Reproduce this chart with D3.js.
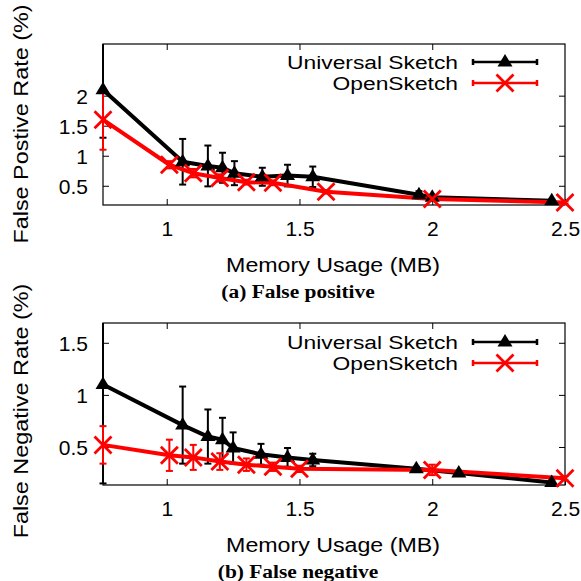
<!DOCTYPE html>
<html>
<head>
<meta charset="utf-8">
<script src="https://cdn.jsdelivr.net/npm/d3@7"></script>
<style>
  body { margin: 0; background: #fff; }
  text { font-family: "Liberation Sans", Arial, sans-serif; }
  .caption { font-family: "Liberation Serif", "Times New Roman", serif; font-weight: bold; }
</style>
</head>
<body>
<div id="chart"></div>
<script>
// x ticks shared by both panels
const xTicks = [1, 1.5, 2, 2.5];

// (a) false positive
const fpUniX = [0.76, 1.06, 1.155, 1.21, 1.255, 1.36, 1.455, 1.55, 1.95, 2.0, 2.45];
const fpUniY = [2.1, 0.9, 0.83, 0.8, 0.71, 0.65, 0.67, 0.65, 0.35, 0.31, 0.25];
const fpUniErr = [0.8, 0.38, 0.34, 0.25, 0.2, 0.15, 0.18, 0.17, 0.06, 0.04, 0.02];
const fpOpenX = [0.76, 1.01, 1.1, 1.2, 1.3, 1.4, 1.6, 2.0, 2.5];
const fpOpenY = [1.6, 0.85, 0.71, 0.63, 0.56, 0.55, 0.4, 0.28, 0.22];
const fpOpenErr = [0.5, 0.06, 0.07, 0.06, 0.04, 0.04, 0.03, 0.03, 0.02];
const fpYTicks = [0.5, 1, 1.5, 2];

// (b) false negative
const fnUniX = [0.76, 1.06, 1.155, 1.21, 1.25, 1.355, 1.455, 1.55, 1.94, 2.1, 2.45];
const fnUniY = [1.1, 0.71, 0.6, 0.57, 0.49, 0.43, 0.4, 0.375, 0.29, 0.25, 0.16];
const fnUniErr = [0.95, 0.37, 0.26, 0.21, 0.15, 0.1, 0.09, 0.06, 0.02, 0.02, 0.02];
const fnOpenX = [0.76, 1.01, 1.1, 1.2, 1.3, 1.4, 1.5, 2.0, 2.5];
const fnOpenY = [0.52, 0.42, 0.4, 0.36, 0.33, 0.31, 0.29, 0.28, 0.2];
const fnOpenErr = [0.18, 0.15, 0.12, 0.08, 0.06, 0.04, 0.03, 0.05, 0.02];
const fnYTicks = [0.5, 1, 1.5];

const seriesNames = ["Universal Sketch", "OpenSketch"];
const seriesColors = ["#000000", "#ff0000"];

const W = 581, H = 581;
const svg = d3.select("#chart").append("svg")
  .attr("width", W)
  .attr("height", H);

const plotLeft = 103, plotRight = 565;

function zip(xs, ys, es) {
  return xs.map((x, i) => ({ x: x, y: ys[i], e: es[i] }));
}

// the reference's sans text is wider than Arial, so stretch it a bit
function wideText(sel, tx, ty, rot, sx, size, anchor, str) {
  return sel.append("text")
    .attr("transform", `translate(${tx}, ${ty}) rotate(${rot}) scale(${sx}, 1)`)
    .attr("text-anchor", anchor)
    .attr("font-size", size)
    .text(str);
}

function drawPanel(opt) {
  const g = svg.append("g");
  const x = d3.scaleLinear().domain([0.76, 2.5]).range([plotLeft, plotRight]);
  const y = d3.scaleLinear().domain(opt.yDomain).range([opt.bottom, opt.top]);
  const clipId = "clip" + opt.id;

  // clip only vertically, so bars sitting on the border stay whole
  g.append("clipPath").attr("id", clipId)
    .append("rect")
    .attr("x", plotLeft - 10).attr("y", opt.top)
    .attr("width", plotRight - plotLeft + 20).attr("height", opt.bottom - opt.top);

  // axes (gnuplot style: inward ticks, mirrored)
  const xAxisCall = d3.axisBottom(x).tickValues(xTicks).tickSizeInner(-6).tickSizeOuter(0)
    .tickPadding(16).tickFormat(d3.format(""));
  const yAxisCall = d3.axisLeft(y).tickValues(opt.yTicks).tickSizeInner(-6).tickSizeOuter(0)
    .tickPadding(15).tickFormat(d3.format(""));
  const xAxis = g.append("g").attr("transform", `translate(0, ${opt.bottom})`).call(xAxisCall);
  const yAxis = g.append("g").attr("transform", `translate(${plotLeft}, 0)`).call(yAxisCall);
  // mirrored ticks
  g.append("g").attr("transform", `translate(0, ${opt.top})`)
    .call(d3.axisTop(x).tickValues(xTicks.filter(d => d < 2.5)).tickSizeInner(-6).tickSizeOuter(0).tickFormat(""));
  g.append("g").attr("transform", `translate(${plotRight}, 0)`)
    .call(d3.axisRight(y).tickValues(opt.yTicks).tickSizeInner(-6).tickSizeOuter(0).tickFormat(""));
  g.selectAll(".domain").remove();
  g.selectAll(".tick line").attr("stroke", "#000").attr("stroke-width", 1);
  [xAxis, yAxis].forEach(a => a.selectAll("text")
    .attr("font-size", "21px").attr("fill", "#000")
    .attr("font-family", "Liberation Sans, Arial, sans-serif"));
  yAxis.selectAll("text").attr("dy", "0.36em");

  g.append("rect")
    .attr("x", plotLeft).attr("y", opt.top)
    .attr("width", plotRight - plotLeft).attr("height", opt.bottom - opt.top)
    .attr("fill", "none").attr("stroke", "#000").attr("stroke-width", 1.2);

  // axis labels
  wideText(g, 333, opt.bottom + 67, 0, 1.16, "20px", "middle", "Memory Usage (MB)");
  wideText(g, 28, opt.labelY, -90, 1.17, "20px", "middle", opt.yLabel);
  wideText(g, 298, opt.bottom + 93, 0, 1.19, "18px", "middle", opt.caption)
    .attr("class", "caption");

  const line = d3.line().x(d => x(d.x)).y(d => y(d.y));
  const plot = g.append("g").attr("clip-path", `url(#${clipId})`);
  const marks = g.append("g");
  const [yMin, yMax] = opt.yDomain;

  opt.series.forEach((data, si) => {
    const col = seriesColors[si];
    // error bars
    data.forEach(d => {
      const lo = d.y - d.e, hi = d.y + d.e;
      plot.append("line")
        .attr("x1", x(d.x)).attr("x2", x(d.x))
        .attr("y1", y(lo)).attr("y2", y(hi))
        .attr("stroke", col).attr("stroke-width", 2);
      [lo, hi].forEach(v => {
        if (v > yMin && v < yMax) {
          plot.append("line")
            .attr("x1", x(d.x) - 3.5).attr("x2", x(d.x) + 3.5)
            .attr("y1", y(v)).attr("y2", y(v))
            .attr("stroke", col).attr("stroke-width", 2);
        }
      });
    });
    plot.append("path")
      .attr("d", line(data))
      .attr("fill", "none").attr("stroke", col)
      .attr("stroke-width", 4)
      .attr("stroke-linejoin", "round");
  });
  // markers on top of all lines
  opt.series.forEach((data, si) => {
    data.forEach(d => drawMarker(marks, si, x(d.x), y(d.y)));
  });

  // legend
  seriesNames.forEach((name, si) => {
    const ly = opt.top + opt.legendY + si * 21;
    wideText(g, 458, ly + 7, 0, 1.2, "19px", "end", name);
    const col = seriesColors[si];
    g.append("line").attr("x1", 473).attr("x2", 537).attr("y1", ly).attr("y2", ly)
      .attr("stroke", col).attr("stroke-width", 2.5);
    [473, 537].forEach(xx => g.append("line")
      .attr("x1", xx).attr("x2", xx).attr("y1", ly - 3).attr("y2", ly + 3)
      .attr("stroke", col).attr("stroke-width", 2.5));
    drawMarker(g, si, 505, ly);
  });
}

function drawMarker(sel, si, cx, cy) {
  if (si === 0) {
    sel.append("path")
      .attr("d", `M${cx},${cy - 8}L${cx + 7.5},${cy + 4.5}L${cx - 7.5},${cy + 4.5}Z`)
      .attr("fill", "#000");
  } else {
    const r = 8.5;
    sel.append("path")
      .attr("d", `M${cx - r},${cy - r}L${cx + r},${cy + r}M${cx - r},${cy + r}L${cx + r},${cy - r}`)
      .attr("stroke", "#ff0000").attr("stroke-width", 2.8).attr("fill", "none");
  }
}

drawPanel({
  id: "a", top: 44, bottom: 205, yDomain: [0.18, 2.86], yTicks: fpYTicks,
  yLabel: "False Postive Rate (%)", labelY: 124, legendY: 18,
  caption: "(a) False positive",
  series: [zip(fpUniX, fpUniY, fpUniErr), zip(fpOpenX, fpOpenY, fpOpenErr)]
});

drawPanel({
  id: "b", top: 323, bottom: 485, yDomain: [0.135, 1.69], yTicks: fnYTicks,
  yLabel: "False Negative Rate (%)", labelY: 411, legendY: 19,
  caption: "(b) False negative",
  series: [zip(fnUniX, fnUniY, fnUniErr), zip(fnOpenX, fnOpenY, fnOpenErr)]
});
</script>
</body>
</html>
